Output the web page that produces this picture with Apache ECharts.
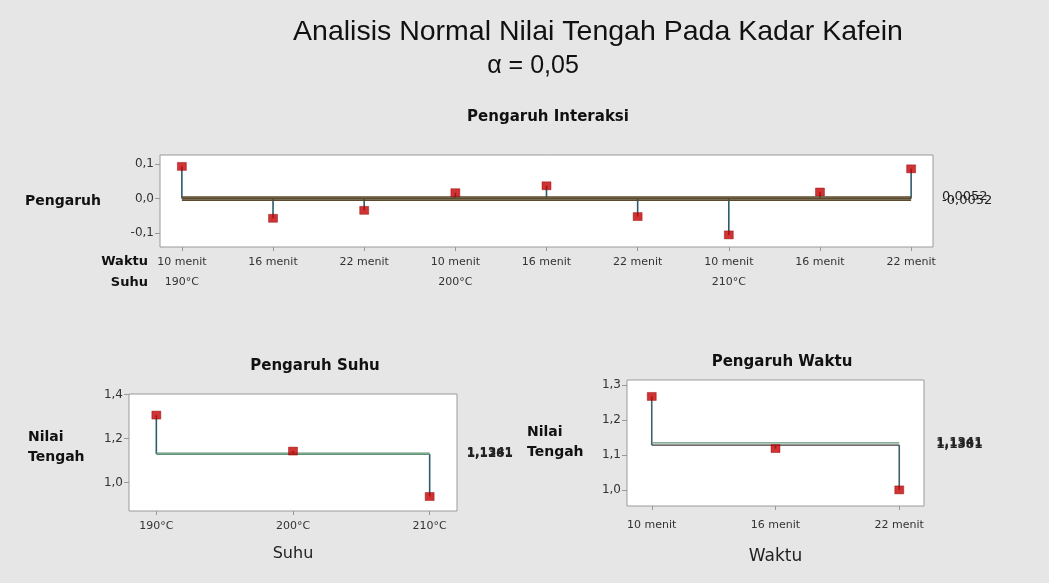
<!DOCTYPE html>
<html>
<head>
<meta charset="utf-8">
<script src="https://cdn.jsdelivr.net/npm/echarts@6/dist/echarts.min.js"></script>
<style>
  html, body { margin: 0; padding: 0; background: #e6e6e6; }
  #chart { width: 1049px; height: 583px; }
</style>
</head>
<body>
<div id="chart"></div>
<script>
  // data interaksi (9 kombinasi suhu x waktu)
  const interaksiWaktu = ['10 menit', '16 menit', '22 menit', '10 menit', '16 menit', '22 menit', '10 menit', '16 menit', '22 menit'];
  const interaksiSuhu = ['190°C', '', '', '200°C', '', '', '210°C', '', ''];
  const interaksiEfek = [0.093, -0.057, -0.034, 0.017, 0.037, -0.052, -0.105, 0.019, 0.086];
  const interaksiPusat = 0;
  const interaksiBatas = [0.0052, -0.0052];
  const interaksiBatasLabel = ['0,0052', '-0,0052'];
  const interaksiTicks = [-0.1, 0, 0.1];

  // pengaruh suhu
  const suhuKategori = ['190°C', '200°C', '210°C'];
  const suhuRata = [1.307, 1.143, 0.936];
  const suhuPusat = 1.130;
  const suhuBatas = [1.1341, 1.1281];
  const suhuBatasLabel = ['1,1341', '1,1281'];
  const suhuTicks = [1.0, 1.2, 1.4];

  // pengaruh waktu
  const waktuKategori = ['10 menit', '16 menit', '22 menit'];
  const waktuRata = [1.267, 1.118, 1.0];
  const waktuPusat = 1.128;
  const waktuBatas = [1.1341, 1.1281];
  const waktuBatasLabel = ['1,1341', '1,1381'];
  const waktuTicks = [1.0, 1.1, 1.2, 1.3];

  const FONT = '"Liberation Sans", Arial, sans-serif';
  const WIDE = '"DejaVu Sans", Verdana, sans-serif';
  const koma = (v, d) => v.toFixed(d).replace('.', ',');
  const idx = arr => arr.map((_, i) => i);

  function xAxisBase(gridIndex, labels, margin, extra) {
    return Object.assign({
      type: 'value', gridIndex: gridIndex, position: 'bottom',
      axisLine: { show: false, onZero: false },
      splitLine: { show: false },
      axisTick: { show: true, length: 4, customValues: idx(labels), lineStyle: { color: '#999' } },
      axisLabel: {
        customValues: idx(labels), margin: margin, color: '#333', fontSize: 11, fontFamily: WIDE,
        formatter: v => labels[Math.round(v)]
      }
    }, extra || {});
  }

  function yAxisBase(gridIndex, min, max, ticks, dec) {
    return {
      type: 'value', gridIndex: gridIndex, min: min, max: max, position: 'left',
      axisLine: { show: false, onZero: false },
      splitLine: { show: false },
      axisTick: { show: true, length: 5, customValues: ticks, lineStyle: { color: '#999' } },
      axisLabel: { customValues: ticks, color: '#333', fontSize: 12, fontFamily: WIDE, margin: 6,
        formatter: v => koma(v, dec) }
    };
  }

  // garis tegak dari garis tengah ke titik
  function batang(xi, yi, pusat, vals, color) {
    return {
      type: 'custom', xAxisIndex: xi, yAxisIndex: yi, z: 2,
      data: vals.map((v, i) => [i, v]),
      renderItem: (params, api) => {
        const a = api.coord([api.value(0), pusat]);
        const b = api.coord([api.value(0), api.value(1)]);
        return { type: 'line', shape: { x1: a[0], y1: a[1], x2: b[0], y2: b[1] },
          style: { stroke: color, lineWidth: 1.6 } };
      }
    };
  }

  function garis(xi, yi, n, val, label, color, width, dist, bold) {
    return {
      type: 'line', xAxisIndex: xi, yAxisIndex: yi, z: 3, symbol: 'none', silent: true,
      data: [[0, val], [n - 1, val]],
      lineStyle: { color: color, width: width },
      endLabel: { show: label !== '', distance: dist, formatter: () => label, color: '#222',
        fontSize: bold ? 12 : 13, fontFamily: WIDE, fontWeight: bold ? 'bold' : 'normal' }
    };
  }

  function titik(xi, yi, vals) {
    return {
      type: 'scatter', xAxisIndex: xi, yAxisIndex: yi, z: 5,
      symbol: 'rect', symbolSize: [9, 8],
      itemStyle: { color: '#c40000', borderColor: '#8a0000', borderWidth: 0.5 },
      data: vals.map((v, i) => [i, v])
    };
  }

  const gridStyle = { show: true, backgroundColor: '#ffffff', borderColor: '#9a9a9a', borderWidth: 1 };

  const option = {
    backgroundColor: '#e6e6e6',
    animation: false,
    grid: [
      Object.assign({ left: 160, top: 155, width: 773, height: 92 }, gridStyle),
      Object.assign({ left: 129, top: 394, width: 328, height: 117 }, gridStyle),
      Object.assign({ left: 627, top: 380, width: 297, height: 126 }, gridStyle)
    ],
    xAxis: [
      xAxisBase(0, interaksiWaktu, 10, { min: -0.24, max: 8.24 }),
      xAxisBase(0, interaksiSuhu, 30, { min: -0.24, max: 8.24,
        axisTick: { show: false },
        axisLabel: { customValues: [0, 3, 6], margin: 30, color: '#333', fontSize: 11, fontFamily: WIDE,
          formatter: v => interaksiSuhu[Math.round(v)] } }),
      xAxisBase(1, suhuKategori, 10, { min: -0.2, max: 2.2,
        name: 'Suhu', nameLocation: 'middle', nameGap: 35,
        nameTextStyle: { fontSize: 16, color: '#222', fontFamily: WIDE } }),
      xAxisBase(2, waktuKategori, 14, { min: -0.2, max: 2.2,
        name: 'Waktu', nameLocation: 'middle', nameGap: 42,
        nameTextStyle: { fontSize: 17, color: '#222', fontFamily: WIDE } })
    ],
    yAxis: [
      yAxisBase(0, -0.14, 0.126, interaksiTicks, 1),
      yAxisBase(1, 0.87, 1.403, suhuTicks, 1),
      yAxisBase(2, 0.954, 1.314, waktuTicks, 1)
    ],
    series: [
      batang(0, 0, interaksiPusat, interaksiEfek, '#2e5b6c'),
      garis(0, 0, 9, interaksiPusat, '', '#5b4a2c', 2.5, 31, false),
      garis(0, 0, 9, interaksiBatas[0], interaksiBatasLabel[0], '#5b4a2c', 1.2, 31, false),
      garis(0, 0, 9, interaksiBatas[1], interaksiBatasLabel[1], '#5b4a2c', 1.2, 31, false),
      titik(0, 0, interaksiEfek),

      batang(2, 1, suhuPusat, suhuRata, '#2e5b6c'),
      garis(2, 1, 3, suhuBatas[0], suhuBatasLabel[0], '#5f9477', 1.2, 37, true),
      garis(2, 1, 3, suhuBatas[1], suhuBatasLabel[1], '#5f9477', 1.2, 37, true),
      titik(2, 1, suhuRata),

      batang(3, 2, waktuPusat, waktuRata, '#3b6470'),
      garis(3, 2, 3, waktuBatas[0], waktuBatasLabel[0], '#5f9477', 1.2, 37, true),
      garis(3, 2, 3, waktuBatas[1], waktuBatasLabel[1], '#3a3a3a', 1.2, 37, true),
      titik(3, 2, waktuRata)
    ],
    graphic: [
      { type: 'text', style: { text: 'Analisis Normal Nilai Tengah Pada Kadar Kafein', x: 598, y: 32, align: 'center', verticalAlign: 'middle', font: '28.5px ' + FONT, fill: '#111' } },
      { type: 'text', style: { text: 'α = 0,05', x: 533, y: 66, align: 'center', verticalAlign: 'middle', font: '25px ' + FONT, fill: '#111' } },
      { type: 'text', style: { text: 'Pengaruh Interaksi', x: 548, y: 117, align: 'center', verticalAlign: 'middle', font: 'bold 15px ' + WIDE, fill: '#111' } },
      { type: 'text', style: { text: 'Pengaruh', x: 25, y: 201, align: 'left', verticalAlign: 'middle', font: 'bold 14px ' + WIDE, fill: '#111' } },
      { type: 'text', style: { text: 'Waktu', x: 148, y: 262, align: 'right', verticalAlign: 'middle', font: 'bold 13px ' + WIDE, fill: '#111' } },
      { type: 'text', style: { text: 'Suhu', x: 148, y: 283, align: 'right', verticalAlign: 'middle', font: 'bold 13px ' + WIDE, fill: '#111' } },
      { type: 'text', style: { text: 'Pengaruh Suhu', x: 315, y: 366, align: 'center', verticalAlign: 'middle', font: 'bold 15px ' + WIDE, fill: '#111' } },
      { type: 'text', style: { text: 'Nilai\nTengah', x: 28, y: 447, align: 'left', verticalAlign: 'middle', lineHeight: 20, font: 'bold 14px ' + WIDE, fill: '#111' } },
      { type: 'text', style: { text: 'Pengaruh Waktu', x: 782, y: 362, align: 'center', verticalAlign: 'middle', font: 'bold 15px ' + WIDE, fill: '#111' } },
      { type: 'text', style: { text: 'Nilai\nTengah', x: 527, y: 442, align: 'left', verticalAlign: 'middle', lineHeight: 20, font: 'bold 14px ' + WIDE, fill: '#111' } }
    ]
  };

  const chart = echarts.init(document.getElementById('chart'), null, { renderer: 'canvas' });
  chart.setOption(option);
</script>
</body>
</html>
